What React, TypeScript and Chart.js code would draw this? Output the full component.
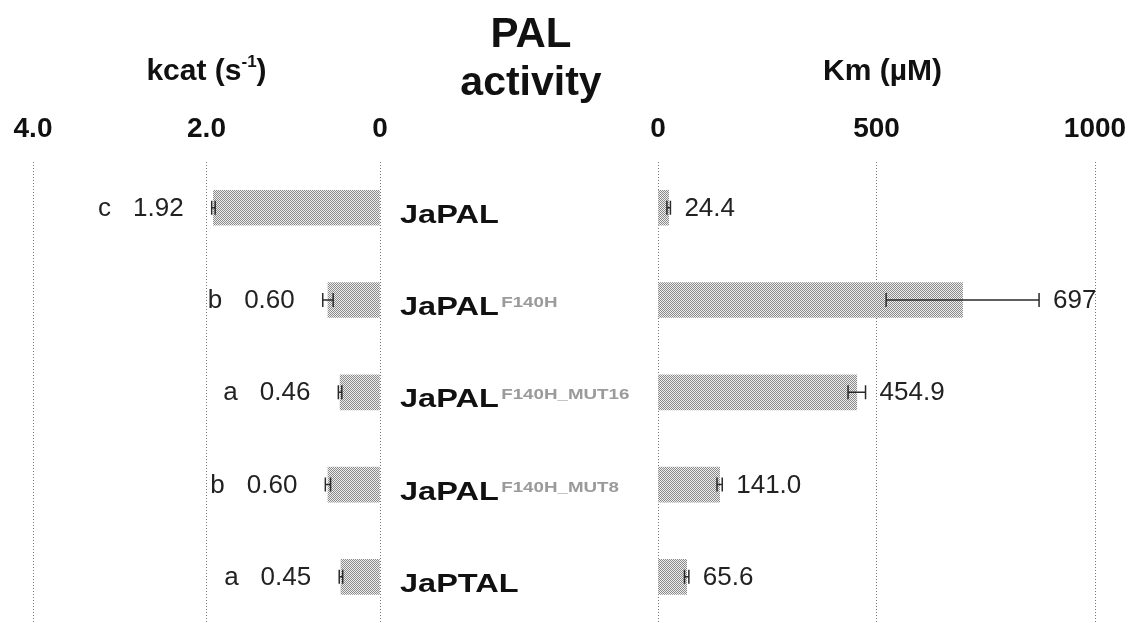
import React, { useEffect, useRef } from 'react';
import { Chart, registerables } from 'chart.js';

Chart.register(...registerables);

// ---------------- data ----------------
const categories = ['JaPAL', 'JaPAL', 'JaPAL', 'JaPAL', 'JaPTAL'];
const superscripts = ['', 'F140H', 'F140H_MUT16', 'F140H_MUT8', ''];

const kcatValues = [1.92, 0.6, 0.46, 0.6, 0.45];
const kcatErrors = [0.02, 0.06, 0.02, 0.03, 0.02];
const kcatLabels = ['1.92', '0.60', '0.46', '0.60', '0.45'];
const kcatLetters = ['c', 'b', 'a', 'b', 'a'];

const kmValues = [24.4, 697, 454.9, 141.0, 65.6];
const kmErrors = [4, 175, 20, 6, 5];
const kmLabels = ['24.4', '697', '454.9', '141.0', '65.6'];

const kcatTicks = [0, 2, 4];
const kcatTickLabels = ['0', '2.0', '4.0'];
const kmTicks = [0, 500, 1000];
const kmTickLabels = ['0', '500', '1000'];

const mainTitle = ['PAL', 'activity'];
const kcatTitle = 'kcat (s';
const kcatTitleSup = '-1';
const kmTitle = 'Km (\u00b5M)';

// ---------------- helpers ----------------
const FONT = '"Liberation Sans", Arial, Helvetica, sans-serif';

function makePattern(ctx: CanvasRenderingContext2D) {
  const c = document.createElement('canvas');
  c.width = 2;
  c.height = 2;
  const g = c.getContext('2d')!;
  g.fillStyle = '#eeeeee';
  g.fillRect(0, 0, 2, 2);
  g.fillStyle = '#8a8a8a';
  g.fillRect(0, 0, 1, 1);
  g.fillRect(1, 1, 1, 1);
  return ctx.createPattern(c, 'repeat');
}

function drawErrors(chart: any, values: number[], errors: number[]) {
  const ctx = chart.ctx as CanvasRenderingContext2D;
  const xs = chart.scales.x;
  const meta = chart.getDatasetMeta(0);
  ctx.save();
  ctx.strokeStyle = '#2a2a2a';
  ctx.lineWidth = 1.5;
  values.forEach((v, i) => {
    const y = meta.data[i].y;
    const a = xs.getPixelForValue(v - errors[i]);
    const b = xs.getPixelForValue(v + errors[i]);
    ctx.beginPath();
    ctx.moveTo(a, y);
    ctx.lineTo(b, y);
    ctx.moveTo(a, y - 7);
    ctx.lineTo(a, y + 7);
    ctx.moveTo(b, y - 7);
    ctx.lineTo(b, y + 7);
    ctx.stroke();
  });
  ctx.restore();
}

function xScaleOptions(min: number, max: number, ticks: number[], tickLabels: string[], reverse: boolean) {
  return {
    type: 'linear',
    position: 'top',
    min,
    max,
    reverse,
    afterBuildTicks: (scale: any) => {
      scale.ticks = ticks.map((v) => ({ value: v }));
    },
    ticks: {
      padding: 16,
      color: '#111',
      font: { family: FONT, size: 28, weight: 'bold' },
      maxRotation: 0,
      callback: (value: number) => {
        const idx = ticks.indexOf(value);
        return idx >= 0 ? tickLabels[idx] : '';
      },
    },
    grid: { drawTicks: false, color: '#777777', lineWidth: 1 },
    border: { display: false, dash: [1, 2] },
  };
}

const yScale = {
  type: 'category',
  display: false,
  offset: true,
  grid: { display: false },
};

// ---------------- plugins ----------------
const leftPlugin = {
  id: 'leftDecor',
  afterDatasetsDraw(chart: any) {
    drawErrors(chart, kcatValues, kcatErrors);
    const ctx = chart.ctx as CanvasRenderingContext2D;
    const xs = chart.scales.x;
    const meta = chart.getDatasetMeta(0);
    ctx.save();
    ctx.font = `26px ${FONT}`;
    ctx.fillStyle = '#222';
    ctx.textBaseline = 'middle';
    kcatValues.forEach((v, i) => {
      const y = meta.data[i].y + 1;
      const end = Math.min(xs.getPixelForValue(v - kcatErrors[i]), xs.getPixelForValue(v + kcatErrors[i]));
      const rx = end - 28;
      ctx.textAlign = 'right';
      ctx.fillText(kcatLabels[i], rx, y);
      const w = ctx.measureText(kcatLabels[i]).width;
      ctx.fillText(kcatLetters[i], rx - w - 22, y);
    });
    ctx.restore();
  },
  afterDraw(chart: any) {
    const ctx = chart.ctx as CanvasRenderingContext2D;
    const area = chart.chartArea;
    const cx = (area.left + area.right) / 2;
    ctx.save();
    ctx.fillStyle = '#111';
    ctx.textBaseline = 'alphabetic';
    ctx.font = `bold 30px ${FONT}`;
    const w1 = ctx.measureText(kcatTitle).width;
    ctx.font = `bold 17px ${FONT}`;
    const w2 = ctx.measureText(kcatTitleSup).width;
    ctx.font = `bold 30px ${FONT}`;
    const w3 = ctx.measureText(')').width;
    const start = cx - (w1 + w2 + w3) / 2;
    ctx.textAlign = 'left';
    ctx.fillText(kcatTitle, start, 80);
    ctx.font = `bold 17px ${FONT}`;
    ctx.fillText(kcatTitleSup, start + w1, 67);
    ctx.font = `bold 30px ${FONT}`;
    ctx.fillText(')', start + w1 + w2, 80);
    ctx.restore();
  },
};

const rightPlugin = {
  id: 'rightDecor',
  afterDatasetsDraw(chart: any) {
    drawErrors(chart, kmValues, kmErrors);
    const ctx = chart.ctx as CanvasRenderingContext2D;
    const xs = chart.scales.x;
    const meta = chart.getDatasetMeta(0);
    ctx.save();
    ctx.font = `26px ${FONT}`;
    ctx.fillStyle = '#222';
    ctx.textBaseline = 'middle';
    ctx.textAlign = 'left';
    kmValues.forEach((v, i) => {
      const y = meta.data[i].y + 1;
      const end = xs.getPixelForValue(v + kmErrors[i]);
      ctx.fillText(kmLabels[i], end + 14, y);
    });
    ctx.restore();
  },
  afterDraw(chart: any) {
    const ctx = chart.ctx as CanvasRenderingContext2D;
    const area = chart.chartArea;
    const meta = chart.getDatasetMeta(0);
    ctx.save();
    ctx.fillStyle = '#111';
    // axis title
    ctx.font = `bold 30px ${FONT}`;
    ctx.textAlign = 'center';
    ctx.textBaseline = 'alphabetic';
    ctx.fillText(kmTitle, (area.left + area.right) / 2 + 6, 80);
    // main title
    const tx = area.left - 127;
    ctx.font = `bold 42px ${FONT}`;
    ctx.fillText(mainTitle[0], tx, 47);
    ctx.font = `bold 41px ${FONT}`;
    ctx.fillText(mainTitle[1], tx, 95);
    // category labels
    const lx = area.left - 258;
    categories.forEach((name, i) => {
      const y = meta.data[i].y;
      ctx.save();
      ctx.translate(lx, y + 15);
      ctx.scale(1.25, 1);
      ctx.textAlign = 'left';
      ctx.font = `bold 26px ${FONT}`;
      ctx.fillStyle = '#111';
      ctx.fillText(name, 0, 0);
      const w = ctx.measureText(name).width;
      if (superscripts[i]) {
        ctx.font = `bold 15px ${FONT}`;
        ctx.fillStyle = '#9a9a9a';
        ctx.fillText(superscripts[i], w + 2, -8);
      }
      ctx.restore();
    });
    ctx.restore();
  },
};

// ---------------- component ----------------
export default function App() {
  const leftRef = useRef<HTMLCanvasElement>(null);
  const rightRef = useRef<HTMLCanvasElement>(null);

  useEffect(() => {
    document.body.style.margin = '0';
    const lc = leftRef.current!;
    const rc = rightRef.current!;
    const labels = categories.map((c, i) => c + superscripts[i]);

    const common = {
      indexAxis: 'y',
      responsive: false,
      animation: false,
      events: [],
      plugins: { legend: { display: false }, tooltip: { enabled: false }, title: { display: false } },
    };

    const left = new Chart(lc, {
      type: 'bar',
      data: {
        labels,
        datasets: [
          {
            data: kcatValues,
            backgroundColor: makePattern(lc.getContext('2d')!) as any,
            borderWidth: 0,
            barThickness: 35,
          },
        ],
      },
      options: {
        ...common,
        layout: { padding: { top: 96, bottom: 0, left: 33, right: 20 } },
        scales: {
          x: xScaleOptions(0, 4, kcatTicks, kcatTickLabels, true),
          y: yScale,
        },
      } as any,
      plugins: [leftPlugin],
    });

    const right = new Chart(rc, {
      type: 'bar',
      data: {
        labels,
        datasets: [
          {
            data: kmValues,
            backgroundColor: makePattern(rc.getContext('2d')!) as any,
            borderWidth: 0,
            barThickness: 35,
          },
        ],
      },
      options: {
        ...common,
        layout: { padding: { top: 96, bottom: 0, left: 268, right: 50 } },
        scales: {
          x: xScaleOptions(0, 1000, kmTicks, kmTickLabels, false),
          y: yScale,
        },
      } as any,
      plugins: [rightPlugin],
    });

    return () => {
      left.destroy();
      right.destroy();
    };
  }, []);

  return (
    <div style={{ position: 'relative', width: 1145, height: 623, background: '#fff', overflow: 'hidden' }}>
      <canvas ref={leftRef} width={400} height={623} style={{ position: 'absolute', left: 0, top: 0 }} />
      <canvas ref={rightRef} width={755} height={623} style={{ position: 'absolute', left: 390, top: 0 }} />
    </div>
  );
}
